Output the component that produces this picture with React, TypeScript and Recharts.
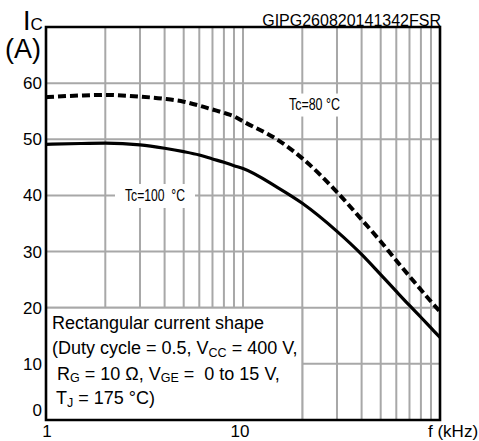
import { CartesianGrid, Line, LineChart, ReferenceArea, ReferenceDot, XAxis, YAxis } from 'recharts';

// Collector current vs. switching frequency, log x-axis.
const FREQ = [1, 1.5, 2, 3, 4, 5, 6, 7, 8, 9, 10, 15, 20, 30, 40, 50, 60, 70, 80, 90, 100];
const TC80 = [57.5, 57.8, 57.9, 57.6, 57.2, 56.7, 56.0, 55.3, 54.7, 54.1, 53.2, 49.9, 46.6, 40.6, 35.7, 31.8, 28.4, 25.6, 23.2, 21.1, 19.3];
const TC100 = [49.1, 49.25, 49.3, 49.0, 48.4, 47.8, 47.2, 46.5, 45.9, 45.3, 44.8, 41.4, 38.6, 33.6, 29.5, 25.9, 22.9, 20.4, 18.3, 16.4, 14.7];

const X_TICKS = [1, 2, 3, 4, 5, 6, 7, 8, 9, 10, 20, 30, 40, 50, 60, 70, 80, 90, 100];
const Y_TICKS = [0, 10, 20, 30, 40, 50, 60, 70];

const data = FREQ.map((f, i) => ({ f, tc80: TC80[i], tc100: TC100[i] }));

const FONT = "'Liberation Sans', Arial, sans-serif";
const GRID = '#a8a8a8';
const INK = '#000';

function XTick({ x, y, payload }: any) {
  const v = payload.value;
  const by = y + 17;
  if (v === 1) return <text x={x + 1} y={by} textAnchor="middle" fontSize={17} fontFamily={FONT} fill={INK}>1</text>;
  if (v === 10) return <text x={x - 3} y={by} textAnchor="middle" fontSize={17} fontFamily={FONT} fill={INK}>10</text>;
  if (v === 100) return <text x={x - 12} y={by} textAnchor="start" fontSize={17} fontFamily={FONT} fill={INK}>f (kHz)</text>;
  return null;
}

function YTick({ x, y, payload }: any) {
  const v = payload.value;
  if (v === 70) return null;
  const dy = v === 0 ? -4 : 6;
  return (
    <text x={x - 4} y={y + dy} textAnchor="end" fontSize={17} fontFamily={FONT} fill={INK}>
      {v}
    </text>
  );
}

function NoteBox({ x, y, width, height }: any) {
  const fs = 18;
  const sub = 12.5;
  return (
    <g fontFamily={FONT} fill={INK}>
      <rect x={x} y={y} width={width} height={height} fill="#fff" stroke={GRID} strokeWidth={2} />
      <text x={x + 6} y={y + 21.5} fontSize={fs}>Rectangular current shape</text>
      <text x={x + 6} y={y + 46.5} fontSize={fs}>
        (Duty cycle = 0.5, V<tspan fontSize={sub} dy={2.5}>CC</tspan>
        <tspan dy={-2.5}> = 400 V,</tspan>
      </text>
      <text x={x + 11} y={y + 72} fontSize={fs}>
        R<tspan fontSize={sub} dy={2.5}>G</tspan>
        <tspan dy={-2.5}> = 10 Ω, V</tspan>
        <tspan fontSize={sub} dy={2.5}>GE</tspan>
        <tspan dy={-2.5}> = {'\u00a0'}0 to 15 V,</tspan>
      </text>
      <text x={x + 10} y={y + 96.5} fontSize={fs}>
        T<tspan fontSize={sub} dy={2.5}>J</tspan>
        <tspan dy={-2.5}> = 175 °C)</tspan>
      </text>
    </g>
  );
}

function TagLabel({ cx, cy, text, w, h, tw }: any) {
  return (
    <g>
      <rect x={cx - w / 2} y={cy - h / 2} width={w} height={h} fill="#fff" />
      <text
        x={cx}
        y={cy + 5}
        textAnchor="middle"
        fontSize={16}
        fontFamily={FONT}
        fill={INK}
        textLength={tw}
        lengthAdjust="spacingAndGlyphs"
      >
        {text}
      </text>
    </g>
  );
}

export default function App() {
  return (
    <div style={{ position: 'absolute', left: 0, top: 0, width: 479, height: 441, background: '#fff' }}>
      <LineChart width={479} height={441} data={data} margin={{ top: 27, right: 39, bottom: 0, left: 0 }}>
        <CartesianGrid stroke={GRID} strokeWidth={2} />
        <XAxis
          dataKey="f"
          type="number"
          scale="log"
          domain={[1, 100]}
          ticks={X_TICKS}
          interval={0}
          height={21}
          axisLine={false}
          tickLine={false}
          tickSize={0}
          tickMargin={0}
          tick={<XTick />}
        />
        <YAxis
          type="number"
          domain={[0, 70]}
          ticks={Y_TICKS}
          interval={0}
          width={46}
          axisLine={false}
          tickLine={false}
          tickSize={0}
          tickMargin={0}
          tick={<YTick />}
        />
        <ReferenceArea x1={1} x2={20} y1={0} y2={20} shape={(p: any) => <NoteBox {...p} />} />
        <ReferenceDot
          x={3.575}
          y={39.9}
          r={0}
          shape={(p: any) => <TagLabel cx={p.cx} cy={p.cy} text={'Tc=100\u00a0\u00a0°C'} w={80} h={24} tw={60} />}
        />
        <ReferenceDot
          x={23.06}
          y={56.1}
          r={0}
          shape={(p: any) => <TagLabel cx={p.cx} cy={p.cy} text={'Tc=80 °C'} w={62} h={23} tw={51} />}
        />
        <Line
          type="monotone"
          dataKey="tc80"
          stroke={INK}
          strokeWidth={4}
          strokeDasharray="8 4"
          dot={false}
          isAnimationActive={false}
        />
        <Line type="monotone" dataKey="tc100" stroke={INK} strokeWidth={3.2} dot={false} isAnimationActive={false} />
        <ReferenceArea x1={1} x2={100} y1={0} y2={70} fill="none" fillOpacity={0} stroke={INK} strokeWidth={2.6} />
      </LineChart>
      <svg width={479} height={441} style={{ position: 'absolute', left: 0, top: 0, pointerEvents: 'none' }}>
        <text x={23} y={30} fontSize={27} fontFamily={FONT} fill={INK}>
          I<tspan fontSize={17}>C</tspan>
        </text>
        <text x={5} y={58} fontSize={27} fontFamily={FONT} fill={INK}>(A)</text>
        <text x={441} y={25.5} textAnchor="end" fontSize={16} fontFamily={FONT} fill={INK}>GIPG260820141342FSR</text>
      </svg>
    </div>
  );
}
